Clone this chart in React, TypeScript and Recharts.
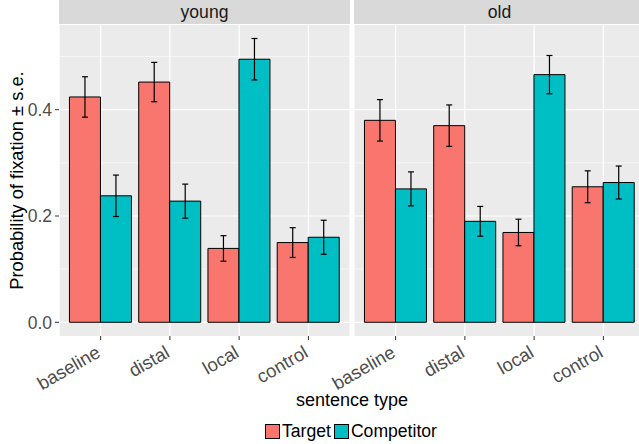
import { BarChart, Bar, XAxis, YAxis, CartesianGrid, ErrorBar } from 'recharts';

const categories = ['baseline', 'distal', 'local', 'control'];
const groups = ['young', 'old'];
const seriesNames = ['Target', 'Competitor'];

const youngTarget = [0.424, 0.452, 0.139, 0.15];
const youngTargetSE = [0.038, 0.037, 0.024, 0.028];
const youngCompetitor = [0.238, 0.228, 0.495, 0.16];
const youngCompetitorSE = [0.039, 0.032, 0.039, 0.032];

const oldTarget = [0.38, 0.37, 0.169, 0.255];
const oldTargetSE = [0.039, 0.039, 0.025, 0.03];
const oldCompetitor = [0.251, 0.19, 0.466, 0.263];
const oldCompetitorSE = [0.032, 0.028, 0.036, 0.031];

const yTicks = [0, 0.2, 0.4];
const yMinor = [0.1, 0.3, 0.5];

const FONT = '"Liberation Sans", Arial, sans-serif';
const COLORS = ['#F8766D', '#00BFC4'];
const DOMAIN: [number, number] = [-0.0258, 0.5594];

function buildRows(t: number[], tSE: number[], c: number[], cSE: number[]) {
  return categories.map((cat, i) => ({
    cat,
    target: t[i],
    targetSE: tSE[i],
    competitor: c[i],
    competitorSE: cSE[i],
  }));
}

const youngRows = buildRows(youngTarget, youngTargetSE, youngCompetitor, youngCompetitorSE);
const oldRows = buildRows(oldTarget, oldTargetSE, oldCompetitor, oldCompetitorSE);

// rotated category labels, like ggplot's angle = 30, hjust = 1
const XTick = (props: any) => {
  const { x, y, payload } = props;
  const tx = x + 1;
  const ty = y + 14;
  return (
    <text
      x={tx}
      y={ty}
      textAnchor="end"
      fontSize={18.5}
      fill="#4D4D4D"
      fontFamily={FONT}
      transform={`rotate(-30, ${tx}, ${ty})`}
    >
      {payload.value}
    </text>
  );
};

function Panel({ rows, showY, width, left }: { rows: any[]; showY: boolean; width: number; left: number }) {
  return (
    <BarChart
      width={width}
      height={444}
      data={rows}
      margin={{ top: 25, right: 0, left, bottom: 0 }}
      barCategoryGap="5%"
      barGap={0}
    >
      <CartesianGrid
        fill="#EBEBEB"
        stroke="#FFFFFF"
        strokeWidth={0.6}
        horizontalValues={yMinor}
        vertical={false}
      />
      <CartesianGrid stroke="#FFFFFF" strokeWidth={1.2} horizontalValues={yTicks} />
      <XAxis
        dataKey="cat"
        height={108}
        padding={{ left: 7, right: 7 }}
        axisLine={false}
        tickLine={{ stroke: '#333333' }}
        tickSize={4}
        tick={<XTick />}
        interval={0}
      />
      <YAxis
        hide={!showY}
        width={59}
        domain={DOMAIN}
        allowDataOverflow
        ticks={yTicks}
        tickFormatter={(v: number) => v.toFixed(1)}
        axisLine={false}
        tickLine={{ stroke: '#333333' }}
        tickSize={4}
        tickMargin={3}
        tick={{ fontSize: 17.5, fill: '#4D4D4D', fontFamily: FONT }}
        label={{
          value: 'Probability of fixation ± s.e.',
          angle: -90,
          position: 'insideLeft',
          offset: 17,
          style: { textAnchor: 'middle', fontSize: 18.3, fill: '#000', fontFamily: FONT },
        }}
      />
      <Bar dataKey="target" fill={COLORS[0]} stroke="#000" strokeWidth={1} isAnimationActive={false}>
        <ErrorBar dataKey="targetSE" width={3} stroke="#000" strokeWidth={1.2} direction="y" isAnimationActive={false} />
      </Bar>
      <Bar dataKey="competitor" fill={COLORS[1]} stroke="#000" strokeWidth={1} isAnimationActive={false}>
        <ErrorBar dataKey="competitorSE" width={3} stroke="#000" strokeWidth={1.2} direction="y" isAnimationActive={false} />
      </Bar>
    </BarChart>
  );
}

const stripStyle = (left: number): React.CSSProperties => ({
  position: 'absolute',
  left,
  top: 0,
  width: 291,
  height: 24,
  background: '#D9D9D9',
  color: '#1A1A1A',
  fontSize: 17.6,
  lineHeight: '24px',
  textAlign: 'center',
});

export default function App() {
  return (
    <div
      style={{
        position: 'absolute',
        left: 0,
        top: 0,
        width: 639,
        height: 444,
        overflow: 'hidden',
        background: '#fff',
        fontFamily: FONT,
      }}
    >
      <div style={{ position: 'absolute', left: 0, top: 0 }}>
        <Panel rows={youngRows} showY width={350} left={0} />
      </div>
      {/* second facet: extra left margin so its rotated labels are not clipped */}
      <div style={{ position: 'absolute', left: 294, top: 0 }}>
        <Panel rows={oldRows} showY={false} width={351} left={60} />
      </div>
      <div style={stripStyle(59)}>{groups[0]}</div>
      <div style={stripStyle(354)}>{groups[1]}</div>
      <div
        style={{
          position: 'absolute',
          left: 59,
          width: 586,
          top: 390,
          textAlign: 'center',
          fontSize: 18,
          color: '#000',
        }}
      >
        sentence type
      </div>
      <div
        style={{
          position: 'absolute',
          left: 265,
          top: 421,
          display: 'flex',
          alignItems: 'center',
          fontSize: 17.6,
          color: '#000',
          lineHeight: '20px',
        }}
      >
        {seriesNames.map((name, i) => (
          <div key={name} style={{ display: 'flex', alignItems: 'center', marginLeft: i ? 3 : 0 }}>
            <span
              style={{
                display: 'inline-block',
                width: 13,
                height: 13,
                background: COLORS[i],
                border: '1px solid #000',
                marginRight: 2,
              }}
            />
            <span>{name}</span>
          </div>
        ))}
      </div>
    </div>
  );
}
